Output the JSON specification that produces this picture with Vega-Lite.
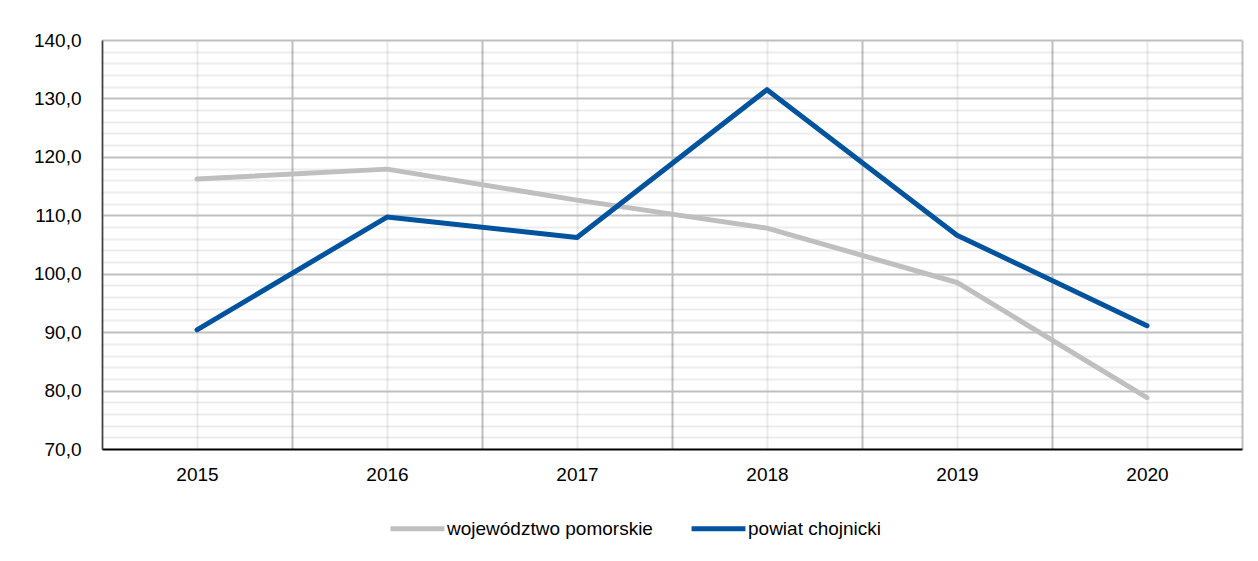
{
  "$schema": "https://vega.github.io/schema/vega-lite/v6.json",
  "autosize": "none",
  "width": 1140,
  "height": 409,
  "padding": {"left": 102, "top": 40, "right": 16, "bottom": 112},
  "background": "white",
  "config": {
    "view": {"stroke": null},
    "font": "Liberation Sans",
    "axis": {"labelFont": "Liberation Sans", "labelColor": "#000000", "labelFontSize": 19}
  },
  "data": {
    "values": [
      {"rok": 2015, "seria": "województwo pomorskie", "wartosc": 116.2},
      {"rok": 2016, "seria": "województwo pomorskie", "wartosc": 117.9},
      {"rok": 2017, "seria": "województwo pomorskie", "wartosc": 112.6},
      {"rok": 2018, "seria": "województwo pomorskie", "wartosc": 107.8},
      {"rok": 2019, "seria": "województwo pomorskie", "wartosc": 98.5},
      {"rok": 2020, "seria": "województwo pomorskie", "wartosc": 78.8},
      {"rok": 2015, "seria": "powiat chojnicki", "wartosc": 90.4},
      {"rok": 2016, "seria": "powiat chojnicki", "wartosc": 109.7},
      {"rok": 2017, "seria": "powiat chojnicki", "wartosc": 106.2},
      {"rok": 2018, "seria": "powiat chojnicki", "wartosc": 131.5},
      {"rok": 2019, "seria": "powiat chojnicki", "wartosc": 106.6},
      {"rok": 2020, "seria": "powiat chojnicki", "wartosc": 91.1}
    ]
  },
  "resolve": {"axis": {"x": "independent", "y": "independent"}},
  "layer": [
    {
      "mark": {"type": "line", "strokeOpacity": 0},
      "encoding": {
        "x": {"field": "rok", "type": "quantitative", "scale": {"domain": [2014.5, 2020.5], "nice": false, "zero": false},
          "axis": {"orient": "bottom", "values": [2015, 2016, 2017, 2018, 2019, 2020], "grid": true, "gridColor": "#ebebeb", "gridWidth": 2, "labels": false, "ticks": false, "domain": false, "title": null}},
        "y": {"field": "wartosc", "type": "quantitative", "scale": {"domain": [70, 140], "nice": false, "zero": false},
          "axis": {"orient": "left", "values": [72, 74, 76, 78, 82, 84, 86, 88, 92, 94, 96, 98, 102, 104, 106, 108, 112, 114, 116, 118, 122, 124, 126, 128, 132, 134, 136, 138], "grid": true, "gridColor": "#000000", "gridOpacity": 0.075, "gridWidth": 2, "labels": false, "ticks": false, "domain": false, "title": null}},
        "detail": {"field": "seria"}
      }
    },
    {
      "mark": {"type": "line", "strokeOpacity": 0},
      "encoding": {
        "x": {"field": "rok", "type": "quantitative",
          "axis": {"orient": "bottom", "values": [2014.5, 2015.5, 2016.5, 2017.5, 2018.5, 2019.5, 2020.5], "grid": true, "gridColor": "#bfbfbf", "gridWidth": 2, "labels": false, "ticks": false, "domain": false, "title": null}},
        "y": {"field": "wartosc", "type": "quantitative",
          "axis": {"orient": "left", "values": [80, 90, 100, 110, 120, 130, 140], "grid": true, "gridColor": "#bfbfbf", "gridWidth": 2, "labels": false, "ticks": false, "domain": false, "title": null}},
        "detail": {"field": "seria"}
      }
    },
    {
      "mark": {"type": "line", "strokeWidth": 5, "strokeCap": "round", "strokeJoin": "round"},
      "encoding": {
        "x": {"field": "rok", "type": "quantitative",
          "axis": {"orient": "bottom", "values": [2015, 2016, 2017, 2018, 2019, 2020], "format": "d", "grid": false, "ticks": false, "domain": true, "domainColor": "#000000", "domainWidth": 2, "labelPadding": 16, "title": null, "zindex": 1}},
        "y": {"field": "wartosc", "type": "quantitative",
          "axis": {"orient": "left", "values": [70, 80, 90, 100, 110, 120, 130, 140], "labelExpr": "replace(format(datum.value, '.1f'), '.', ',')", "grid": false, "ticks": false, "domain": true, "domainColor": "#404040", "domainWidth": 1.5, "labelPadding": 21, "title": null, "zindex": 1}},
        "color": {"field": "seria", "type": "nominal",
          "scale": {"domain": ["województwo pomorskie", "powiat chojnicki"], "range": ["#bfbfbf", "#00539c"]},
          "legend": {"title": null, "orient": "none", "legendX": 286, "legendY": 459, "direction": "horizontal",
            "symbolType": "stroke", "symbolSize": 2900, "symbolStrokeWidth": 5, "labelFontSize": 19, "labelFont": "Liberation Sans", "labelColor": "#000000", "labelOffset": 0, "columnPadding": 28, "labelLimit": 400}}
      }
    }
  ]
}
